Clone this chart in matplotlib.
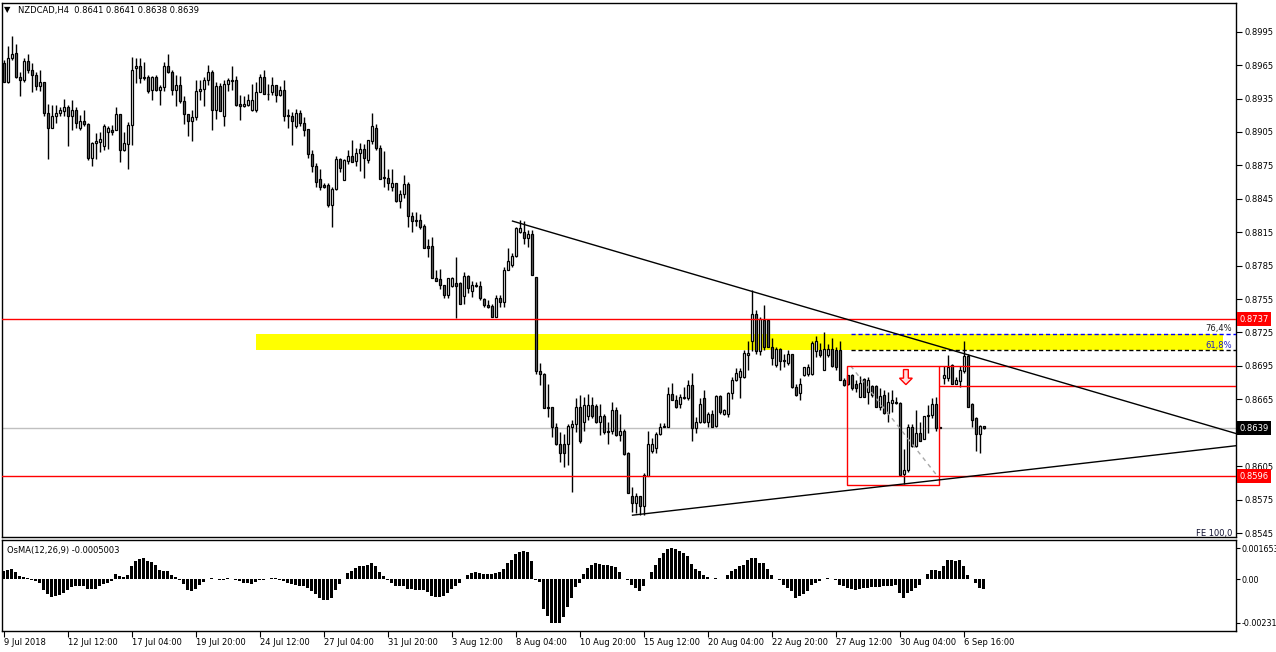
import numpy as np
import matplotlib
matplotlib.use("Agg")
import matplotlib.pyplot as plt
from matplotlib.patches import Rectangle, Polygon
from matplotlib.transforms import blended_transform_factory

plt.rcParams['font.family'] = ['DejaVu Sans']

# --- NZDCAD H4 candles, prices in 1/10000 (8967 -> 0.8967) ---
o = [8967, 8950, 8971, 8976, 8954, 8952, 8969, 8961, 8956, 8946,
     8950, 8922, 8909, 8919, 8922, 8924, 8927, 8919, 8925, 8909,
     8915, 8912, 8882, 8895, 8896, 8892, 8905, 8907, 8907, 8921,
     8889, 8894, 8911, 8962, 8964, 8954, 8954, 8943, 8954, 8943,
     8945, 8964, 8959, 8943, 8947, 8933, 8921, 8915, 8918, 8942,
     8944, 8952, 8959, 8925, 8946, 8919, 8948, 8952, 8952, 8930,
     8928, 8929, 8925, 8925, 8941, 8954, 8939, 8941, 8947, 8938,
     8943, 8920, 8919, 8910, 8922, 8913, 8908, 8885, 8874, 8863,
     8857, 8857, 8839, 8854, 8881, 8862, 8879, 8883, 8879, 8886,
     8890, 8880, 8897, 8909, 8891, 8865, 8864, 8856, 8859, 8843,
     8849, 8858, 8830, 8826, 8826, 8821, 8803, 8803, 8774, 8773,
     8768, 8759, 8767, 8769, 8769, 8758, 8776, 8762, 8768, 8767,
     8755, 8750, 8749, 8739, 8756, 8752, 8781, 8786, 8794, 8815,
     8815, 8810, 8813, 8775, 8690, 8688, 8658, 8658, 8640, 8625,
     8625, 8625, 8640, 8643, 8658, 8645, 8650, 8660, 8659, 8645,
     8650, 8636, 8637, 8655, 8633, 8637, 8617, 8578, 8572, 8578,
     8569, 8596, 8619, 8621, 8634, 8640, 8640, 8670, 8664, 8661,
     8666, 8666, 8678, 8639, 8645, 8666, 8645, 8652, 8641, 8668,
     8652, 8652, 8671, 8682, 8685, 8685, 8705, 8717, 8742, 8708,
     8736, 8736, 8712, 8696, 8710, 8700, 8698, 8706, 8676, 8671,
     8687, 8688, 8688, 8708, 8709, 8691, 8705, 8710, 8709, 8709,
     8682, 8687, 8687, 8679, 8667, 8683, 8672, 8677, 8677, 8658,
     8669, 8653, 8662, 8663, 8662, 8598, 8602, 8640, 8623, 8635,
     8629, 8650, 8651, 8661, 8639, 8684, 8684, 8696, 8679, 8681,
     8690, 8704, 8661, 8648, 8634, 8641]
h = [8970, 8982, 8991, 8984, 8959, 8971, 8975, 8967, 8959, 8961,
     8950, 8930, 8929, 8929, 8927, 8935, 8929, 8934, 8927, 8920,
     8925, 8913, 8896, 8904, 8905, 8912, 8910, 8911, 8927, 8921,
     8905, 8914, 8972, 8971, 8971, 8968, 8956, 8955, 8956, 8947,
     8968, 8975, 8961, 8956, 8955, 8937, 8921, 8925, 8952, 8952,
     8954, 8965, 8961, 8950, 8949, 8952, 8953, 8964, 8955, 8938,
     8937, 8939, 8948, 8950, 8957, 8961, 8948, 8954, 8947, 8946,
     8952, 8926, 8923, 8926, 8925, 8918, 8908, 8889, 8877, 8872,
     8859, 8859, 8856, 8883, 8882, 8881, 8889, 8898, 8891, 8895,
     8894, 8898, 8922, 8912, 8893, 8888, 8872, 8872, 8859, 8853,
     8866, 8860, 8833, 8833, 8831, 8822, 8809, 8811, 8781, 8782,
     8768, 8774, 8775, 8793, 8770, 8779, 8777, 8771, 8770, 8771,
     8756, 8754, 8751, 8759, 8759, 8784, 8801, 8796, 8820, 8826,
     8825, 8817, 8817, 8775, 8698, 8689, 8679, 8658, 8644, 8636,
     8634, 8643, 8646, 8666, 8669, 8667, 8670, 8667, 8661, 8661,
     8652, 8645, 8663, 8658, 8652, 8638, 8618, 8586, 8581, 8578,
     8599, 8637, 8630, 8636, 8644, 8644, 8676, 8680, 8669, 8670,
     8676, 8682, 8689, 8649, 8666, 8673, 8654, 8655, 8669, 8669,
     8656, 8672, 8685, 8693, 8693, 8709, 8717, 8763, 8745, 8739,
     8750, 8737, 8720, 8712, 8711, 8706, 8709, 8706, 8679, 8684,
     8694, 8697, 8717, 8722, 8716, 8725, 8715, 8720, 8712, 8717,
     8684, 8687, 8688, 8682, 8686, 8684, 8685, 8678, 8678, 8675,
     8673, 8672, 8673, 8667, 8663, 8620, 8643, 8643, 8655, 8645,
     8650, 8660, 8666, 8667, 8640, 8695, 8705, 8697, 8685, 8695,
     8717, 8706, 8662, 8649, 8642, 8641]
l = [8950, 8949, 8970, 8953, 8937, 8950, 8958, 8941, 8943, 8942,
     8919, 8881, 8909, 8913, 8919, 8919, 8892, 8907, 8909, 8907,
     8910, 8880, 8874, 8881, 8887, 8889, 8890, 8902, 8907, 8878,
     8888, 8872, 8893, 8949, 8949, 8952, 8940, 8934, 8942, 8929,
     8942, 8958, 8938, 8928, 8931, 8912, 8901, 8897, 8916, 8934,
     8928, 8947, 8907, 8917, 8924, 8910, 8942, 8943, 8928, 8916,
     8927, 8928, 8924, 8923, 8941, 8939, 8934, 8938, 8932, 8937,
     8915, 8909, 8893, 8909, 8910, 8901, 8882, 8869, 8856, 8853,
     8855, 8838, 8820, 8853, 8869, 8862, 8876, 8878, 8874, 8870,
     8864, 8877, 8894, 8889, 8863, 8856, 8853, 8852, 8842, 8837,
     8846, 8820, 8815, 8821, 8818, 8801, 8793, 8774, 8771, 8764,
     8756, 8756, 8766, 8738, 8751, 8751, 8760, 8757, 8766, 8754,
     8748, 8747, 8739, 8739, 8748, 8748, 8781, 8784, 8793, 8814,
     8804, 8802, 8777, 8688, 8678, 8657, 8649, 8631, 8624, 8609,
     8604, 8606, 8582, 8636, 8626, 8637, 8646, 8648, 8644, 8633,
     8634, 8625, 8634, 8632, 8628, 8615, 8581, 8564, 8563, 8561,
     8561, 8596, 8617, 8617, 8633, 8640, 8640, 8664, 8657, 8657,
     8665, 8664, 8628, 8635, 8644, 8644, 8640, 8640, 8640, 8652,
     8651, 8649, 8665, 8681, 8666, 8684, 8691, 8708, 8706, 8705,
     8709, 8712, 8696, 8694, 8691, 8694, 8696, 8675, 8668, 8664,
     8686, 8686, 8687, 8703, 8703, 8691, 8703, 8694, 8691, 8682,
     8677, 8678, 8673, 8672, 8667, 8667, 8661, 8667, 8658, 8655,
     8652, 8645, 8654, 8661, 8597, 8589, 8600, 8622, 8622, 8628,
     8629, 8635, 8648, 8637, 8639, 8679, 8681, 8679, 8679, 8676,
     8689, 8658, 8640, 8619, 8617, 8638]
c = [8950, 8971, 8975, 8954, 8952, 8969, 8961, 8956, 8946, 8950,
     8922, 8909, 8919, 8922, 8925, 8927, 8919, 8925, 8913, 8915,
     8912, 8882, 8895, 8897, 8899, 8910, 8909, 8905, 8921, 8889,
     8895, 8911, 8961, 8964, 8953, 8953, 8942, 8954, 8943, 8945,
     8964, 8959, 8943, 8947, 8933, 8921, 8915, 8918, 8942, 8944,
     8952, 8959, 8925, 8946, 8924, 8948, 8952, 8951, 8929, 8928,
     8930, 8934, 8934, 8941, 8954, 8939, 8939, 8947, 8938, 8943,
     8919, 8919, 8915, 8922, 8913, 8907, 8885, 8874, 8860, 8856,
     8856, 8839, 8854, 8881, 8873, 8880, 8883, 8878, 8886, 8890,
     8882, 8898, 8910, 8891, 8863, 8864, 8859, 8859, 8843, 8849,
     8858, 8830, 8825, 8825, 8820, 8801, 8801, 8774, 8771, 8768,
     8759, 8774, 8774, 8767, 8751, 8776, 8765, 8768, 8767, 8756,
     8750, 8748, 8739, 8756, 8752, 8781, 8789, 8794, 8819, 8819,
     8810, 8813, 8777, 8690, 8688, 8657, 8657, 8640, 8625, 8617,
     8617, 8641, 8643, 8658, 8628, 8660, 8660, 8650, 8645, 8650,
     8636, 8637, 8655, 8633, 8637, 8616, 8581, 8572, 8578, 8569,
     8597, 8625, 8625, 8634, 8640, 8641, 8670, 8664, 8658, 8667,
     8667, 8678, 8639, 8645, 8661, 8645, 8652, 8640, 8668, 8654,
     8655, 8671, 8682, 8689, 8690, 8707, 8707, 8742, 8708, 8737,
     8712, 8712, 8702, 8710, 8699, 8699, 8706, 8676, 8669, 8679,
     8694, 8694, 8716, 8717, 8705, 8710, 8710, 8695, 8694, 8682,
     8678, 8679, 8675, 8675, 8680, 8667, 8682, 8669, 8658, 8668,
     8653, 8663, 8664, 8662, 8597, 8602, 8640, 8623, 8635, 8628,
     8650, 8651, 8661, 8639, 8640, 8687, 8694, 8679, 8682, 8691,
     8704, 8658, 8646, 8634, 8641, 8639]

# OsMA(12,26,9) histogram, units of 1e-4
osma = [4.2, 4.8, 5.3, 3.7, 1.7, 1.2, 0.7, -0.2, -0.8, -2.2,
        -5.5, -8.0, -9.4, -8.9, -8.4, -7.2, -5.8, -4.2, -3.8, -3.5,
        -3.5, -5.2, -5.2, -5.2, -3.5, -2.6, -1.7, -0.8, 2.8, 1.5,
        1.2, 2.0, 7.0, 9.5, 10.7, 11.2, 9.9, 9.0, 7.5, 4.8,
        4.5, 4.5, 2.3, 1.2, -0.2, -2.5, -5.8, -6.3, -5.2, -3.0,
        -1.3, 0.0, 0.8, 0.0, -0.5, -0.2, 0.7, 0.2, -0.5, -0.8,
        -1.8, -2.2, -2.5, -1.3, -0.5, -0.2, 0.3, 0.8, 0.7, -0.2,
        -0.8, -2.2, -2.6, -3.0, -3.5, -3.5, -4.7, -6.3, -8.0, -9.7,
        -10.9, -10.9, -9.7, -5.5, -2.5, 0.3, 3.2, 4.2, 6.2, 7.0,
        7.0, 7.8, 8.7, 7.0, 3.7, 1.5, -0.2, -1.8, -3.5, -3.8,
        -3.8, -5.2, -5.2, -5.5, -5.5, -5.8, -6.8, -8.9, -9.4, -9.4,
        -8.9, -7.2, -5.2, -3.5, -2.2, 0.3, 2.0, 3.2, 3.7, 3.2,
        2.8, 2.8, 2.8, 3.2, 3.7, 5.3, 8.7, 10.4, 13.2, 14.5,
        15.0, 14.5, 9.9, -0.5, -1.3, -15.5, -19.2, -23.0, -23.1, -23.1,
        -19.7, -14.7, -9.7, -4.2, -2.2, 2.8, 5.8, 7.8, 8.4, 8.2,
        7.8, 7.3, 7.0, 6.5, 3.7, 0.3, -0.5, -3.0, -4.7, -6.3,
        -3.8, 0.3, 3.7, 7.8, 11.5, 13.7, 15.9, 16.5, 15.9, 15.0,
        13.7, 12.5, 8.2, 5.3, 4.2, 2.3, 1.2, 0.3, 0.8, 0.3,
        0.3, 2.3, 4.5, 5.3, 7.0, 7.8, 10.4, 11.5, 11.5, 8.7,
        8.4, 5.3, 2.3, 0.3, -0.5, -3.0, -4.7, -6.3, -9.7, -8.9,
        -7.7, -6.3, -3.0, -1.8, -0.8, 0.3, 0.7, -0.1, -0.2, -3.0,
        -3.8, -4.7, -5.2, -5.5, -5.2, -4.7, -4.7, -4.2, -4.3, -4.3,
        -3.8, -3.5, -3.5, -3.0, -7.2, -9.7, -7.2, -6.3, -4.7, -3.0,
        0.3, 2.8, 4.8, 4.8, 4.5, 7.0, 10.4, 10.4, 9.9, 10.4,
        7.0, 2.5, 0.3, -2.2, -4.7, -5.0]

date_labels = ["9 Jul 2018", "12 Jul 12:00", "17 Jul 04:00", "19 Jul 20:00",
               "24 Jul 12:00", "27 Jul 04:00", "31 Jul 20:00", "3 Aug 12:00",
               "8 Aug 04:00", "10 Aug 20:00", "15 Aug 12:00", "20 Aug 04:00",
               "22 Aug 20:00", "27 Aug 12:00", "30 Aug 04:00", "6 Sep 16:00"]
price_ticks = [0.8545, 0.8575, 0.8605, 0.8635, 0.8665, 0.8695, 0.8725, 0.8755,
               0.8785, 0.8815, 0.8845, 0.8875, 0.8905, 0.8935, 0.8965, 0.8995]

# horizontal levels and drawn objects (prices)
support, resistance, last_price = 0.8596, 0.8737, 0.8639
zone_lo, zone_hi = 0.8709, 0.8724
box_lo, box_hi, box2_lo = 0.8588, 0.8695, 0.8677
fe_618, fe_764 = 0.8709, 0.8724
trend_down = [(127.25, 0.8825), (187.0, 0.8762)]
trend_up = [(157.25, 0.8561), (225.0, 0.8589)]

W, H = 1276, 652
fig = plt.figure(figsize=(W / 100, H / 100), dpi=100)
ax = fig.add_axes([2 / W, 1 - 537 / H, 1234 / W, 534 / H])
ax2 = fig.add_axes([2 / W, 1 - 631 / H, 1234 / W, 91 / H])

XMIN, XMAX = -0.375, 308.125
O, Hi, Lo, C = (np.array(v) / 1e4 for v in (o, h, l, c))
x = np.arange(len(C))

# ---- candles ----
up = C >= O
body_lo = np.minimum(O, C)
body_h = np.maximum(np.abs(C - O), 0.00002)
ax.vlines(x, Lo, Hi, color='black', lw=1, zorder=2)
ax.bar(x[up], body_h[up], bottom=body_lo[up], width=0.5, color='white',
       edgecolor='black', lw=0.9, zorder=3)
ax.bar(x[~up], body_h[~up], bottom=body_lo[~up], width=0.5, color='#6a6a6a',
       edgecolor='black', lw=0.9, zorder=3)

# ---- objects ----
ax.add_patch(Rectangle((63.1, zone_lo), 304.9 - 63.1, zone_hi - zone_lo,
                       fc='#ffff00', ec='none', zorder=0.5))
ax.axhline(last_price, color='#c0c0c0', lw=1, zorder=1)
ax.axhline(resistance, color='red', lw=1, zorder=4)
ax.axhline(support, color='red', lw=1, zorder=4)

ax.hlines(fe_764, 211.8, XMAX, colors='#0000ff', linestyles=(0, (3, 2)), lw=1, zorder=4)
ax.hlines(fe_618, 211.8, XMAX, colors='black', linestyles=(0, (3, 2)), lw=1, zorder=4)
ax.plot([211.8, 233.5], [box_hi, 0.8596], color='#a8a8a8', lw=1,
        ls=(0, (3, 3)), zorder=4)

ax.add_patch(Rectangle((210.9, box_lo), 233.9 - 210.9, box_hi - box_lo,
                       fill=False, ec='red', lw=1, zorder=4))
ax.hlines([box_hi, box2_lo], 233.9, XMAX, colors='red', lw=1, zorder=4)

for (x1, p1), (x2, p2) in (trend_down, trend_up):
    k = (p2 - p1) / (x2 - x1)
    ax.plot([x1, XMAX], [p1, p1 + k * (XMAX - x1)], color='black', lw=1, zorder=5)

# hollow down arrow marker
ax_, ay_ = 225.6, 0.8685
arrow = Polygon([(ax_ - 0.6, ay_ + 0.00067), (ax_ + 0.6, ay_ + 0.00067),
                 (ax_ + 0.6, ay_ - 0.0001), (ax_ + 1.6, ay_ - 0.0001),
                 (ax_, ay_ - 0.00068), (ax_ - 1.6, ay_ - 0.0001),
                 (ax_ - 0.6, ay_ - 0.0001)],
                closed=True, fc='#ffe0e0', ec='red', lw=1, zorder=6)
ax.add_patch(arrow)

ax.text(307.1, fe_764 + 0.00005, '76,4%', fontsize=6, ha='right', va='bottom',
        color='#202020', zorder=6)
ax.text(307.1, fe_618 + 0.00005, '61,8%', fontsize=6, ha='right', va='bottom',
        color='#2020c0', zorder=6)
ax.text(307.3, 0.85445, 'FE 100,0', fontsize=6, ha='right', va='center',
        color='#101030', zorder=6)

ax.set_xlim(XMIN, XMAX)
ax.set_ylim(0.854141, 0.902076)
ax.set_xticks([])
ax.set_yticks(price_ticks)
# 0.8635 sits under the current-price box
ax.set_yticklabels(['' if abs(p - 0.8635) < 1e-6 else '%.4f' % p for p in price_ticks])
ax.yaxis.tick_right()
ax.tick_params(axis='y', direction='out', length=4, width=0.8, labelsize=6,
               pad=2, colors='black')

# price labels on the scale
tr = blended_transform_factory(ax.transAxes, ax.transData)
for p, bg in ((resistance, 'red'), (support, 'red'), (last_price, 'black')):
    ax.text(1.0025, p, '%.4f' % p, transform=tr, fontsize=6, color='white',
            va='center', ha='left', zorder=10,
            bbox=dict(boxstyle='square,pad=0.3', fc=bg, ec='none'))

# ---- OsMA panel ----
ax2.bar(x, np.array(osma) * 1e-4, width=0.6, color='black', lw=0)
ax2.set_xlim(XMIN, XMAX)
ax2.set_ylim(-0.002733, 0.002076)
ax2.yaxis.tick_right()
ax2.set_yticks([-0.00231, 0.0, 0.001653])
ax2.set_yticklabels(['-0.00231', '0.00', '0.001653'])
ax2.tick_params(axis='y', direction='out', length=3, width=0.8, labelsize=5.8, pad=1)
ax2.set_xticks(np.arange(len(date_labels)) * 16)
ax2.set_xticklabels(date_labels)
for lbl in ax2.get_xticklabels():
    lbl.set_ha('left')
ax2.tick_params(axis='x', direction='out', length=4, width=0.8, labelsize=6, pad=1)

for a in (ax, ax2):
    for s in a.spines.values():
        s.set_linewidth(1)
        s.set_color('black')

fig.text(4 / W, 1 - 10 / H, '\u25bc', fontsize=6, va='center', ha='left')
fig.text(18 / W, 1 - 10 / H, 'NZDCAD,H4  0.8641 0.8641 0.8638 0.8639',
         fontsize=6, va='center', ha='left')
fig.text(7 / W, 1 - 550 / H, 'OsMA(12,26,9) -0.0005003', fontsize=6,
         va='center', ha='left')

fig.savefig('out.png', dpi=100)
